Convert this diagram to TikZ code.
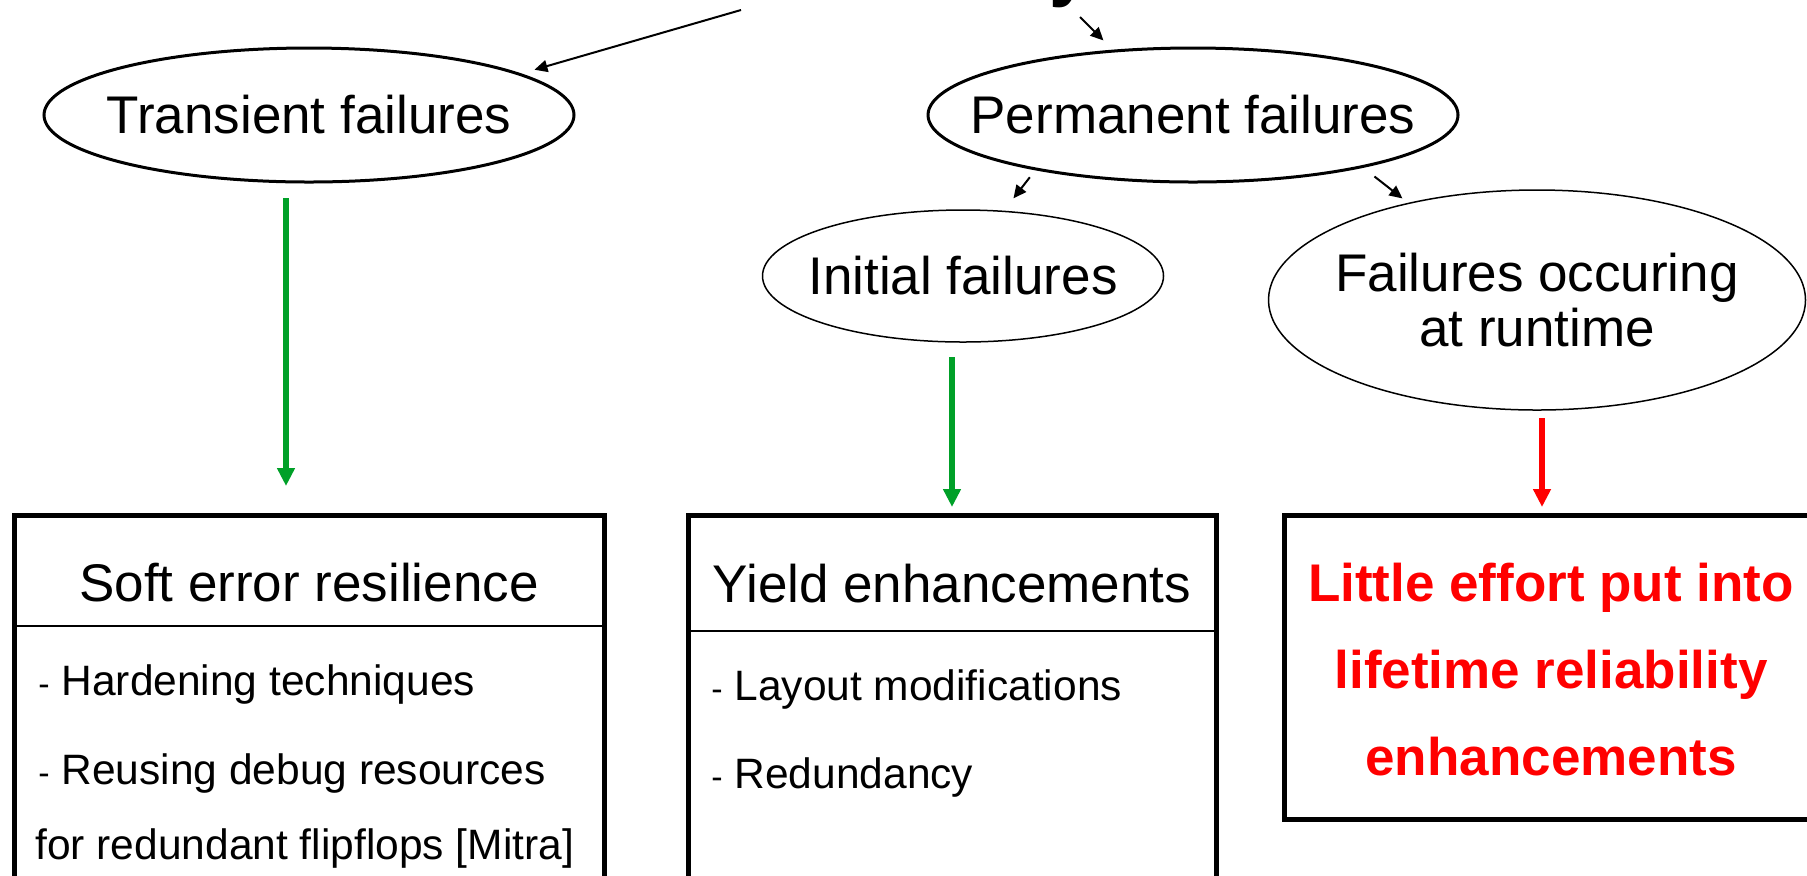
\documentclass[tikz,border=0pt]{standalone}
\usepackage{fontspec}
\setmainfont{Liberation Sans}
\usetikzlibrary{shapes.geometric,arrows.meta,positioning}

\definecolor{okgreen}{RGB}{0,160,40}
\definecolor{alertred}{RGB}{255,0,0}

\def\headfont{\fontsize{26.5}{27.5}\selectfont}
\def\itemfont{\fontsize{21.25}{24}\selectfont}
\def\dashmark{{\fontsize{17}{17}\selectfont -}\ }

\tikzset{
  thickell/.style={draw, ellipse, line width=1.5pt, inner sep=0pt, outer sep=0pt},
  thinell/.style={draw, ellipse, line width=0.75pt, inner sep=0pt, outer sep=0pt},
  catbox/.style={draw, line width=2.5pt, anchor=north west, inner sep=0pt, outer sep=0pt},
  headtext/.style={font=\headfont, anchor=base},
  itemtext/.style={font=\itemfont, anchor=base west, inner sep=0pt},
  smallarr/.style={-{Triangle[length=6.5pt,width=6pt]}, line width=1pt},
  fatarr/.style={-{Triangle[length=9pt,width=8.5pt]}, line width=3pt}
}

\begin{document}
\begin{tikzpicture}[x=0.5pt,y=-0.5pt]
    \useasboundingbox (0,0) rectangle (1807,875);
    % title, only its last letter shows
    \node[font=\bfseries\fontsize{37}{40}\selectfont, anchor=base, inner sep=0pt] (title) at (1070,-7.5) {y};
    \coordinate (tL) at (741,10);
    \coordinate (tR) at (1080,17);
    % failure kinds
    \node[thickell, minimum width=265pt, minimum height=67pt] (trans) at (309,115) {};
    \node[font=\headfont] (transtxt) at (trans) {Transient failures};
    \node[thickell, minimum width=265pt, minimum height=67pt] (perm) at (1193,115) {};
    \node[font=\headfont] (permtxt) at (perm) {Permanent failures};
    \node[thinell, minimum width=200.5pt, minimum height=66pt] (init) at (963,276) {};
    \node[font=\headfont] (inittxt) at (init) {Initial failures};
    \node[thinell, minimum width=268.5pt, minimum height=110pt] (runtime) at (1537,300) {};
    \node[font=\headfont, align=center] (runtimetxt) at (runtime) {Failures occuring\\at runtime};
    % boxes
    \node[catbox, minimum width=295pt, minimum height=210pt] (soft) at (14,515) {};
    \draw[line width=1pt] (14,626) -- (604,626);
    \node[headtext] (softhead) at (309,601) {Soft error resilience};
    \node[itemtext] (softa) at (38,695) {\dashmark Hardening techniques};
    \node[itemtext] (softb) at (38,784) {\dashmark Reusing debug resources};
    \node[itemtext] (softc) at (35,859) {for redundant flipflops [Mitra]};
    \node[catbox, minimum width=264pt, minimum height=210pt] (yield) at (688,515) {};
    \draw[line width=1pt] (688,631) -- (1216,631);
    \node[headtext] (yieldhead) at (952,602) {Yield enhancements};
    \node[itemtext] (yielda) at (711,700) {\dashmark Layout modifications};
    \node[itemtext] (yieldb) at (711,788) {\dashmark Redundancy};
    \node[catbox, minimum width=267pt, minimum height=152pt] (little) at (1284,515) {};
    \node[font=\bfseries\fontsize{26.5}{43.5}\selectfont, text=alertred, align=center] (littletxt) at (1551,670) {Little effort put into\\lifetime reliability\\enhancements};
    % arrows
    \draw[smallarr, shorten >=8pt] (tL) -- (trans.11);
    \draw[smallarr, shorten >=7.5pt] (tR) -- (perm.141);
    \draw[smallarr, shorten <=5.2pt, shorten >=8.2pt] (perm.199) -- (init.58);
    \draw[smallarr, shorten <=8pt, shorten >=4pt] (perm.343) -- (runtime.143);
    \draw[fatarr, okgreen] ([xshift=-11.5pt,yshift=-8pt]trans.south) -- ([xshift=-11.5pt,yshift=14.5pt]soft.north);
    \draw[fatarr, okgreen] ([xshift=-5.5pt,yshift=-7.5pt]init.south) -- ([yshift=4pt]yield.north);
    \draw[fatarr, alertred] ([xshift=2.5pt,yshift=-4pt]runtime.south) -- ([xshift=-4.5pt,yshift=4pt]little.north);
\end{tikzpicture}
\end{document}
